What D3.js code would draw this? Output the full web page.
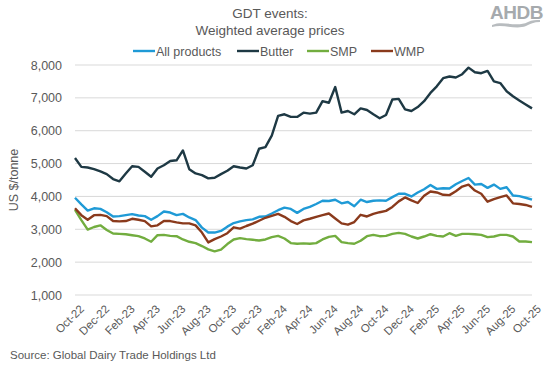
<!DOCTYPE html>
<html>
<head>
<meta charset="utf-8">
<script src="https://cdn.jsdelivr.net/npm/d3@7"></script>
<style>
  body { margin: 0; background: #fff; }
  svg { font-family: "Liberation Sans", Arial, sans-serif; }
</style>
</head>
<body>
<svg width="553" height="371"></svg>
<script>
// tick labels on the category axis (every 4th GDT event)
var tickLabels = ["Oct-22","Dec-22","Feb-23","Apr-23","Jun-23","Aug-23","Oct-23","Dec-23",
  "Feb-24","Apr-24","Jun-24","Aug-24","Oct-24","Dec-24","Feb-25","Apr-25","Jun-25","Aug-25","Oct-25"];

var allProducts = [3960,3760,3570,3640,3620,3520,3390,3400,3430,3460,3420,3400,3290,3400,3540,3510,
  3430,3470,3360,3280,3050,2900,2900,2950,3080,3190,3240,3280,3300,3380,3390,3480,3580,3660,3620,3500,
  3620,3680,3770,3870,3860,3900,3790,3830,3700,3900,3830,3870,3880,3870,3980,4080,4080,4000,4120,4220,
  4350,4230,4250,4240,4370,4470,4560,4360,4380,4260,4360,4230,4280,4030,4010,3960,3900];

var butter = [5170,4900,4880,4830,4760,4680,4530,4460,4700,4920,4900,4750,4600,4850,4950,5080,
  5100,5400,4830,4700,4650,4550,4570,4680,4780,4920,4880,4850,4950,5450,5500,5850,6450,6500,6420,6420,
  6550,6520,6550,6900,6850,7330,6550,6600,6500,6680,6630,6500,6380,6480,6950,6970,6650,6600,6720,6900,
  7150,7350,7600,7650,7620,7720,7920,7780,7750,7820,7500,7450,7200,7050,6920,6800,6680];

var smp = [3590,3280,2990,3070,3120,2980,2870,2860,2850,2820,2790,2720,2620,2820,2830,2800,
  2790,2690,2620,2580,2490,2390,2330,2380,2550,2690,2730,2700,2680,2660,2690,2760,2800,2720,2580,2560,
  2570,2560,2580,2690,2770,2800,2610,2580,2560,2650,2790,2830,2790,2800,2860,2890,2860,2780,2720,2780,
  2850,2800,2780,2880,2800,2860,2860,2850,2830,2760,2780,2830,2830,2780,2630,2630,2610];

var wmp = [3640,3430,3290,3430,3440,3400,3250,3240,3250,3320,3290,3250,3090,3120,3250,3250,
  3210,3180,3180,3120,2900,2600,2700,2780,2880,3060,3020,3100,3170,3260,3350,3410,3470,3380,3250,3160,
  3270,3320,3380,3430,3480,3330,3180,3140,3220,3440,3390,3470,3520,3560,3680,3850,3970,3880,3800,4020,
  4150,4120,4050,4040,4160,4300,4360,4180,4080,3840,3920,3980,4030,3790,3770,3740,3680];

var series = [
  { name: "All products", values: allProducts, color: "#1f9ad6" },
  { name: "Butter", values: butter, color: "#1e3944" },
  { name: "SMP", values: smp, color: "#72ad3f" },
  { name: "WMP", values: wmp, color: "#8a3a1c" }
];

var svg = d3.select("svg");
var textCol = "#595959";

var x = d3.scaleLinear().domain([0, allProducts.length - 1]).range([75, 532]);
var y = d3.scaleLinear().domain([1000, 8000]).range([295, 65]);

// gridlines
svg.append("g")
  .selectAll("line")
  .data(d3.range(1000, 8001, 1000))
  .enter().append("line")
  .attr("x1", 75).attr("x2", 532)
  .attr("y1", function(d) { return y(d); })
  .attr("y2", function(d) { return y(d); })
  .attr("stroke", "#d9d9d9")
  .attr("stroke-width", 1);

// y axis labels
var yAxis = d3.axisLeft(y).tickValues(d3.range(1000, 8001, 1000))
  .tickFormat(d3.format(",")).tickSize(0).tickPadding(13);
var gy = svg.append("g").attr("transform", "translate(75,0)").call(yAxis);
gy.select(".domain").remove();
gy.selectAll("text").attr("fill", textCol).style("font-size", "12.5px");

// x axis labels (rotated)
var gx = svg.append("g").attr("transform", "translate(0,300)");
gx.selectAll("text")
  .data(tickLabels)
  .enter().append("text")
  .attr("transform", function(d, i) { return "translate(" + (x(i * 4) + 4) + ",4) rotate(-45)"; })
  .attr("text-anchor", "end")
  .attr("dy", "0.7em")
  .attr("fill", textCol)
  .style("font-size", "11.5px")
  .text(function(d) { return d; });

// lines
var line = d3.line()
  .x(function(d, i) { return x(i); })
  .y(function(d) { return y(d); });

svg.append("g")
  .selectAll("path")
  .data(series)
  .enter().append("path")
  .attr("d", function(d) { return line(d.values); })
  .attr("fill", "none")
  .attr("stroke", function(d) { return d.color; })
  .attr("stroke-width", 2.4)
  .attr("stroke-linejoin", "round");

// title
svg.append("text").attr("x", 270).attr("y", 18).attr("text-anchor", "middle")
  .attr("fill", textCol).style("font-size", "13.5px").text("GDT events:");
svg.append("text").attr("x", 270).attr("y", 35).attr("text-anchor", "middle")
  .attr("fill", textCol).style("font-size", "13.5px").text("Weighted average prices");

// legend
var legendX = [133, 237, 307, 371];
var leg = svg.append("g").selectAll("g")
  .data(series)
  .enter().append("g")
  .attr("transform", function(d, i) { return "translate(" + legendX[i] + ",51)"; });
leg.append("line").attr("x1", 0).attr("x2", 22).attr("y1", 0).attr("y2", 0)
  .attr("stroke", function(d) { return d.color; }).attr("stroke-width", 2.4);
leg.append("text").attr("x", 23).attr("y", 4.5)
  .attr("fill", textCol).style("font-size", "12.5px")
  .text(function(d) { return d.name; });

// y axis title
svg.append("text")
  .attr("transform", "translate(18,180) rotate(-90)")
  .attr("text-anchor", "middle")
  .attr("fill", textCol).style("font-size", "12.5px")
  .text("US $/tonne");

// source
svg.append("text").attr("x", 10).attr("y", 359)
  .attr("fill", textCol).style("font-size", "11.5px")
  .text("Source: Global Dairy Trade Holdings Ltd");

// AHDB logo
var logo = svg.append("g").attr("transform", "translate(490,0)");
logo.append("text").attr("x", 0).attr("y", 19)
  .attr("fill", "#a6aaad").style("font-size", "19px").style("font-weight", "bold")
  .style("letter-spacing", "-0.5px")
  .text("AHDB");
logo.append("path")
  .attr("d", "M2,25 C14,20 26,28 38,22 C42,20 46,20 50,20 L50,22 C44,22 40,24 36,26 C26,30 14,24 2,27 Z")
  .attr("fill", "#b8bcbf");
</script>
</body>
</html>
